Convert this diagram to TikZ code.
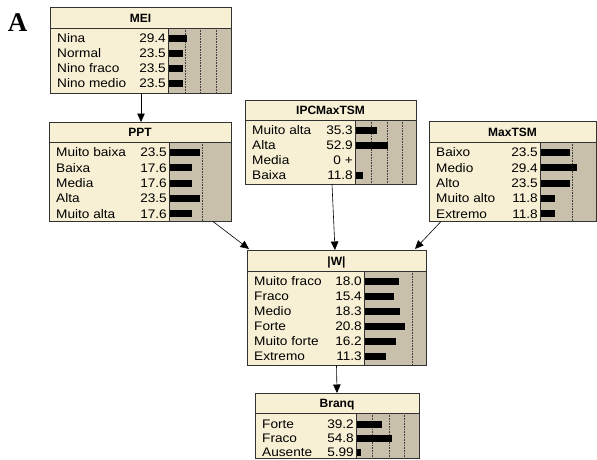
\documentclass[tikz,border=0pt]{standalone}
\usepackage{fontspec}
\setmainfont{Liberation Sans}
\newfontfamily\nf[FakeStretch=1.1]{Liberation Sans}
\newfontfamily\tf{Liberation Sans}
\newfontfamily\serifbf{Liberation Serif}
\usetikzlibrary{arrows.meta,calc}
\definecolor{cream}{RGB}{248,240,212}
\definecolor{barbg}{RGB}{200,192,170}
\definecolor{edge}{RGB}{50,50,50}
\tikzset{
  bnframe/.style={draw=edge, line width=0.9pt, inner sep=0pt, outer sep=0pt, anchor=north west},
  gridline/.style={draw=black!75, line width=0.6pt, dash pattern=on 0.8pt off 0.8pt},
  sepline/.style={draw=edge, line width=0.9pt},
  lab/.style={anchor=base west, inner sep=0pt, font=\nf\fontsize{12.4}{12}\selectfont},
  val/.style={anchor=base east, inner sep=0pt, font=\nf\fontsize{12.4}{12}\selectfont},
  ttl/.style={anchor=base, inner sep=0pt, font=\tf\bfseries\fontsize{12}{12}\selectfont},
  arr/.style={draw=black, line width=0.6pt, -{Triangle[length=8.5pt,width=7.5pt]}},
}
% #1 name, #2 left, #3 top, #4 right, #5 bottom, #6 barleft, #7 sep, #8 title, #9 gridline xs
\newcommand{\bnbox}[9]{%
  \fill[cream] (#2,#3) rectangle (#4,#5);
  \fill[barbg] (#6,#7) rectangle (#4,#5);
  \foreach \gx in {#9}{\draw[gridline] (\gx,#7) -- (\gx,#5);}
  \node[ttl] (#1-title) at ({(#2+#4)/2},#7-6) {#8};
}
% #1 name, #2 left, #3 barleft, #4 first row y, #5 step, #6 scale, #7 rows
\newcommand{\bnrows}[7]{%
  \foreach \lab/\val/\pct [count=\i from 0] in {#7}{
    \pgfmathsetmacro\ry{#4+\i*#5}
    \node[lab] (#1-l\i) at (#2+7,\ry+4.4) {\lab};
    \node[val] (#1-v\i) at (#3-2,\ry+4.4) {\val};
    \pgfmathsetmacro\bw{\pct*#6}
    \ifdim\bw pt>0.1pt
      \fill[black] (#3+1,\ry-3.5) rectangle ({#3+1+\bw},\ry+3.5);
    \fi
  }
}
% #1 name, #2 left, #3 top, #4 right, #5 bottom, #6 barleft, #7 sep
\newcommand{\bnframe}[7]{%
  \draw[sepline] (#2,#7) -- (#4,#7);
  \draw[sepline] (#6,#7) -- (#6,#5);
  \node[bnframe, minimum width={#4pt-#2pt}, minimum height={#5pt-#3pt}] (#1) at (#2,#3) {};
}
\begin{document}
\begin{tikzpicture}[x=1pt,y=-1pt]
\useasboundingbox[fill=white] (0,0) rectangle (597,459);
\node[font=\serifbf\bfseries\fontsize{27}{27}\selectfont, inner sep=0pt] (lblA) at (17.5,22.5) {A};

% MEI
\bnbox{mei}{50}{7}{231}{93}{168}{28}{MEI}{185,200,216}
\bnrows{mei}{50}{168}{38}{15.1}{0.612}{Nina/29.4/29.4, Normal/23.5/23.5, Nino fraco/23.5/23.5, Nino medio/23.5/23.5}
\bnframe{mei}{50}{7}{231}{93}{168}{28}

% PPT
\bnbox{ppt}{49}{122}{231}{221}{169}{142}{PPT}{202}
\bnrows{ppt}{49}{169}{152.5}{15.3}{1.26}{Muito baixa/23.5/23.5, Baixa/17.6/17.6, Media/17.6/17.6, Alta/23.5/23.5, Muito alta/17.6/17.6}
\bnframe{ppt}{49}{122}{231}{221}{169}{142}

% IPCMaxTSM
\bnbox{ipc}{245}{100}{416}{184}{355}{120}{IPCMaxTSM}{371,387,402}
\bnrows{ipc}{245}{355}{130}{15.1}{0.6}{Muito alta/35.3/35.3, Alta/52.9/52.9, Media/0 +/0, Baixa/11.8/11.8}
\bnframe{ipc}{245}{100}{416}{184}{355}{120}

% MaxTSM
\bnbox{max}{429}{121}{596}{221}{540}{142}{MaxTSM}{572}
\bnrows{max}{429}{540}{152.5}{15.3}{1.22}{Baixo/23.5/23.5, Medio/29.4/29.4, Alto/23.5/23.5, Muito alto/11.8/11.8, Extremo/11.8/11.8}
\bnframe{max}{429}{121}{596}{221}{540}{142}

% |W|
\bnbox{w}{247}{250}{426}{365}{364}{271}{|W|}{412}
\bnrows{w}{247}{364}{281}{15.1}{1.9}{Muito fraco/18.0/18.0, Fraco/15.4/15.4, Medio/18.3/18.3, Forte/20.8/20.8, Muito forte/16.2/16.2, Extremo/11.3/11.3}
\bnframe{w}{247}{250}{426}{365}{364}{271}

% Branq
\bnbox{br}{255}{393}{419}{458}{356}{413}{Branq}{372,389,404}
\bnrows{br}{255}{356}{424}{14.2}{0.64}{Forte/39.2/39.2, Fraco/54.8/54.8, Ausente/5.99/5.99}
\bnframe{br}{255}{393}{419}{458}{356}{413}

% connectors
\draw[arr] ($(mei.south)+(0.5,0)$) -- ($(ppt.north)+(1,0)$);
\draw[arr] ($(ppt.south east)+(-18,0.5)$) -- ($(w.north west)+(2,-1)$);
\draw[arr] ($(ipc.south)+(1.5,0)$) -- ($(w.north)+(-1.5,0)$);
\draw[arr] ($(max.south west)+(12,0.5)$) -- ($(w.north east)+(-11,-1)$);
\draw[arr] (w.south) -- (br.north);
\end{tikzpicture}
\end{document}
